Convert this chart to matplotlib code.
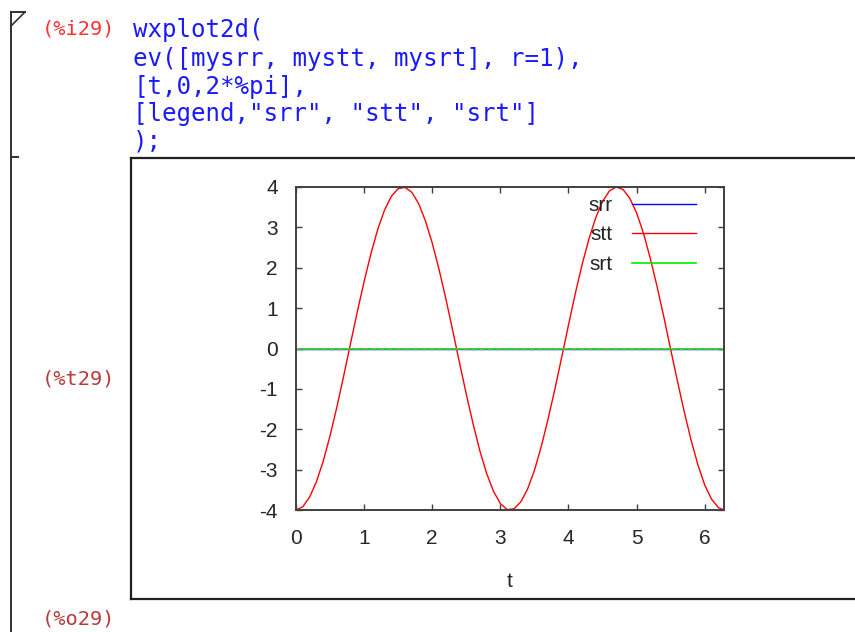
import numpy as np
import matplotlib
matplotlib.use("Agg")
import matplotlib.pyplot as plt
from matplotlib.lines import Line2D

# ---- data ----
t_vals = [0.0, 0.1, 0.2, 0.3, 0.4, 0.5, 0.6, 0.7, 0.8, 0.9, 1.0, 1.1, 1.2, 1.3,
          1.4, 1.5, 1.6, 1.7, 1.8, 1.9, 2.0, 2.1, 2.2, 2.3, 2.4, 2.5, 2.6, 2.7,
          2.8, 2.9, 3.0, 3.1, 3.2, 3.3, 3.4, 3.5, 3.6, 3.7, 3.8, 3.9, 4.0, 4.1,
          4.2, 4.3, 4.4, 4.5, 4.6, 4.7, 4.8, 4.9, 5.0, 5.1, 5.2, 5.3, 5.4, 5.5,
          5.6, 5.7, 5.8, 5.9, 6.0, 6.1, 6.2, 6.2832]
stt_vals = [-4.00, -3.92, -3.68, -3.30, -2.79, -2.16, -1.45, -0.68, 0.12, 0.91,
            1.66, 2.35, 2.95, 3.43, 3.77, 3.96, 3.99, 3.87, 3.59, 3.16, 2.61,
            1.96, 1.23, 0.45, -0.35, -1.13, -1.87, -2.54, -3.10, -3.54, -3.84,
            -3.99, -3.97, -3.80, -3.48, -3.02, -2.43, -1.75, -1.01, -0.22, 0.58,
            1.36, 2.08, 2.71, 3.24, 3.64, 3.90, 4.00, 3.94, 3.72, 3.36, 2.86,
            2.24, 1.54, 0.78, -0.02, -0.81, -1.57, -2.27, -2.88, -3.38, -3.73,
            -3.94, -4.00]
srr_vals = [0.0] * len(t_vals)
srt_vals = [0.0] * len(t_vals)
series_names = ["srr", "stt", "srt"]
x_ticks = [0, 1, 2, 3, 4, 5, 6]
y_ticks = [-4, -3, -2, -1, 0, 1, 2, 3, 4]
code_lines = ['wxplot2d(',
              'ev([mysrr, mystt, mysrt], r=1),',
              '[t,0,2*%pi],',
              '[legend,"srr", "stt", "srt"]',
              ');']

W, H = 855, 632
fig = plt.figure(figsize=(W / 100, H / 100), dpi=100)
fig.patch.set_facecolor("white")

# ---- background overlay in pixel coordinates ----
bg = fig.add_axes([0, 0, 1, 1], zorder=0)
bg.set_xlim(0, W)
bg.set_ylim(H, 0)
bg.axis("off")

# cell bracket
bg.add_line(Line2D([11, 11], [12, 632], color="#303030", lw=1.4))
bg.add_line(Line2D([11, 25], [12, 12], color="#303030", lw=1.4))
bg.add_line(Line2D([25, 11], [12, 26], color="#303030", lw=1.2))
bg.add_line(Line2D([11, 18], [157, 157], color="#303030", lw=1.4))

# outer output box
bg.add_line(Line2D([131, 855], [158, 158], color="#202020", lw=1.6))
bg.add_line(Line2D([131, 131], [158, 599], color="#202020", lw=1.6))
bg.add_line(Line2D([131, 855], [599, 599], color="#202020", lw=1.6))

mono = "DejaVu Sans Mono"
bg.text(42, 29, "(%i29)", color="#ff3030", fontsize=14.6, family=mono,
        ha="left", va="center")
ys = [30, 59, 87, 114, 141]
for y, line in zip(ys, code_lines):
    bg.text(133, y, line, color="#1a1aff", fontsize=17.4, family=mono,
            ha="left", va="center")
bg.text(42, 379, "(%t29)", color="#b83a3a", fontsize=14.6, family=mono,
        ha="left", va="center")
bg.text(42, 619, "(%o29)", color="#b83a3a", fontsize=14.6, family=mono,
        ha="left", va="center")

# ---- the plot ----
left, right, top, bottom = 296, 724, 187, 510
ax = fig.add_axes([left / W, 1 - bottom / H, (right - left) / W, (bottom - top) / H],
                  zorder=2)
ax.set_facecolor("none")
ax.plot(t_vals, srr_vals, color="#0000ff", lw=1.0, label=series_names[0])
ax.plot(t_vals, stt_vals, color="#ff0000", lw=1.0, label=series_names[1])
ax.plot(t_vals, srt_vals, color="#00ee00", lw=1.2, label=series_names[2])
ax.axhline(0, color="#909090", lw=1.0, dashes=(3, 3))

ax.set_xlim(0, 2 * np.pi)
ax.set_ylim(-4, 4)
ax.set_xticks(x_ticks)
ax.set_yticks(y_ticks)
ax.set_xticklabels([str(v) for v in x_ticks])
ax.set_yticklabels([str(v) for v in y_ticks])
sans = "Liberation Sans"
for s in ax.spines.values():
    s.set_color("#404040")
    s.set_linewidth(1.4)
ax.tick_params(axis="both", direction="in", length=4, width=1.0, color="#404040",
               top=True, right=True, labelsize=15, labelcolor="#262626")
ax.tick_params(axis="x", pad=14)
ax.tick_params(axis="y", pad=13)
for lab in ax.get_xticklabels() + ax.get_yticklabels():
    lab.set_family(sans)
ax.set_xlabel("t", fontsize=15, family=sans, color="#262626", labelpad=17)

leg = ax.legend(loc="upper right", bbox_to_anchor=(696 / W, 1 - 196 / H),
                bbox_transform=fig.transFigure, frameon=False, markerfirst=False,
                handlelength=3.05, handletextpad=0.95, labelspacing=0.5,
                borderpad=0, borderaxespad=0,
                prop={"family": sans, "size": 15})
for txt in leg.get_texts():
    txt.set_color("#262626")

fig.savefig("out.png", dpi=100)
